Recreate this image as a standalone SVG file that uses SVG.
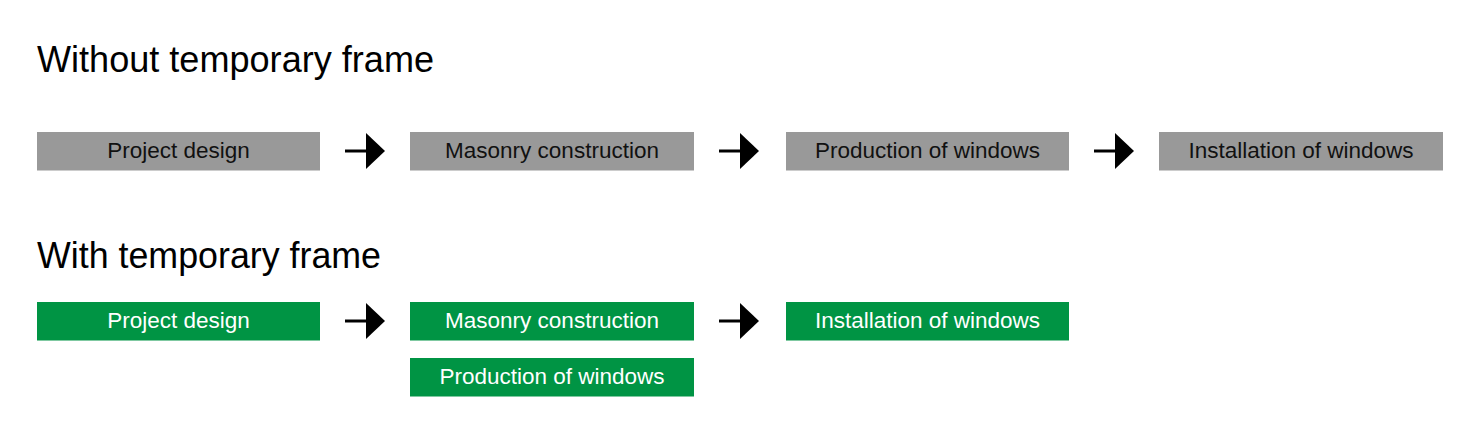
<svg xmlns="http://www.w3.org/2000/svg" width="1480" height="440" viewBox="0 0 1480 440">
<style>
.title{font-family:"Liberation Sans",Arial,sans-serif;font-size:36px;fill:#000}
.lbl{font-family:"Liberation Sans",Arial,sans-serif;font-size:22.5px;text-anchor:middle}
.gray rect{fill:#999999}
.gray text{fill:#111}
.green rect{fill:#009444}
.green text{fill:#fff}
.conn line{stroke:#000;stroke-width:3}
.conn polygon{fill:#000}
</style>
<rect width="1480" height="440" fill="#fff"/>
<text class="title" x="37" y="72" textLength="397" lengthAdjust="spacingAndGlyphs">Without temporary frame</text>
<text class="title" x="37" y="268" textLength="344" lengthAdjust="spacingAndGlyphs">With temporary frame</text>

<g id="a-design" class="gray"><rect x="37" y="132" width="283" height="38.5"/><text class="lbl" x="178.5" y="158">Project design</text></g>
<g id="a-masonry" class="gray"><rect x="410" y="132" width="284" height="38.5"/><text class="lbl" x="552" y="158">Masonry construction</text></g>
<g id="a-production" class="gray"><rect x="786" y="132" width="283" height="38.5"/><text class="lbl" x="927.5" y="158">Production of windows</text></g>
<g id="a-installation" class="gray"><rect x="1159" y="132" width="284" height="38.5"/><text class="lbl" x="1301" y="158">Installation of windows</text></g>

<g id="b-design" class="green"><rect x="37" y="302" width="283" height="38.5"/><text class="lbl" x="178.5" y="328">Project design</text></g>
<g id="b-masonry" class="green"><rect x="410" y="302" width="284" height="38.5"/><text class="lbl" x="552" y="328">Masonry construction</text></g>
<g id="b-production" class="green"><rect x="410" y="358" width="284" height="38.5"/><text class="lbl" x="552" y="384">Production of windows</text></g>
<g id="b-installation" class="green"><rect x="786" y="302" width="283" height="38.5"/><text class="lbl" x="927.5" y="328">Installation of windows</text></g>

<g id="connectors" class="conn">
<line x1="345" y1="151" x2="368" y2="151"/><polygon points="366,133 385,151 366,169"/>
<line x1="719" y1="151" x2="742" y2="151"/><polygon points="740,133 759,151 740,169"/>
<line x1="1094" y1="151" x2="1117" y2="151"/><polygon points="1115,133 1134,151 1115,169"/>
<line x1="345" y1="321" x2="368" y2="321"/><polygon points="366,303 385,321 366,339"/>
<line x1="719" y1="321" x2="742" y2="321"/><polygon points="740,303 759,321 740,339"/>
</g>
</svg>
